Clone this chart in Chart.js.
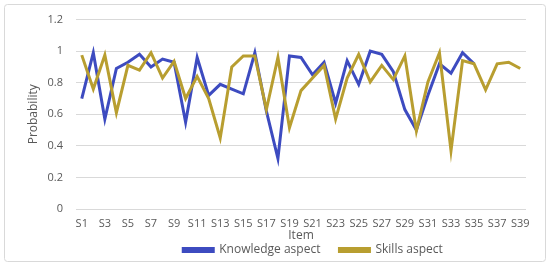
<!DOCTYPE html>
<html>
<head>
<meta charset="utf-8">
<script src="https://cdn.jsdelivr.net/npm/chart.js@4.4.1/dist/chart.umd.min.js"></script>
<style>
  html, body { margin: 0; padding: 0; background: #fff; }
  #wrap { width: 550px; height: 266px; position: relative; }
</style>
</head>
<body>
<div id="wrap"><canvas id="chart"></canvas></div>
<script>
const items = ['S1','S2','S3','S4','S5','S6','S7','S8','S9','S10',
  'S11','S12','S13','S14','S15','S16','S17','S18','S19','S20',
  'S21','S22','S23','S24','S25','S26','S27','S28','S29','S30',
  'S31','S32','S33','S34','S35','S36','S37','S38','S39'];

const knowledge = [0.70, 0.99, 0.57, 0.89, 0.93, 0.98, 0.90, 0.95, 0.93, 0.55,
  0.96, 0.72, 0.79, 0.76, 0.73, 0.99, 0.62, 0.32, 0.97, 0.96,
  0.85, 0.93, 0.67, 0.94, 0.79, 1.00, 0.98, 0.87, 0.63, 0.50,
  0.72, 0.92, 0.86, 0.99, 0.92, null, null, null, null];

const skills = [0.975, 0.76, 0.975, 0.61, 0.91, 0.88, 0.99, 0.83, 0.935, 0.70,
  0.84, 0.70, 0.45, 0.90, 0.97, 0.97, 0.63, 0.96, 0.515, 0.75,
  0.83, 0.91, 0.57, 0.83, 0.98, 0.805, 0.91, 0.82, 0.97, 0.495,
  0.805, 0.99, 0.37, 0.94, 0.92, 0.755, 0.92, 0.93, 0.89];

const textColor = '#595959';
const gridColor = '#d9d9d9';
const fontFamily = '"Open Sans", "Noto Sans", sans-serif';

// white background + light outer frame like the office chart
const frame = {
  id: 'frame',
  beforeDraw(chart) {
    const { ctx, width, height } = chart;
    ctx.save();
    ctx.fillStyle = '#ffffff';
    ctx.fillRect(0, 0, width, height);
    ctx.strokeStyle = gridColor;
    ctx.lineWidth = 1;
    ctx.beginPath();
    ctx.roundRect(4.5, 4.5, 541, 257, 3);
    ctx.stroke();
    ctx.restore();
  },
};

// legend uses a wide label padding for the gap between entries,
// so move the box up afterwards (and keep it tall enough not to clip)
const legendPlace = {
  id: 'legendPlace',
  afterLayout(chart) {
    const lg = chart.legend;
    if (!lg) return;
    const pad = lg.options.labels.padding;
    lg.top = 250 - pad - 6;
    lg.bottom = chart.height;
    lg.height = lg.bottom - lg.top;
    lg.left += 12;
    lg.right += 12;
  },
};

Chart.defaults.font.family = fontFamily;

new Chart(document.getElementById('chart').getContext('2d'), {
  type: 'line',
  plugins: [frame, legendPlace],
  data: {
    labels: items,
    datasets: [
      {
        label: 'Knowledge aspect',
        data: knowledge,
        borderColor: '#3D4BC0',
        backgroundColor: '#3D4BC0',
        borderWidth: 3,
        pointRadius: 0,
        tension: 0,
        order: 2,
      },
      {
        label: 'Skills aspect',
        data: skills,
        borderColor: '#B89E30',
        backgroundColor: '#B89E30',
        borderWidth: 3,
        pointRadius: 0,
        tension: 0,
        order: 1,
      },
    ],
  },
  options: {
    responsive: true,
    maintainAspectRatio: false,
    animation: false,
    layout: { padding: { left: 22, right: 24, top: 16, bottom: 7 } },
    scales: {
      x: {
        offset: true,
        grid: { display: false, drawTicks: false },
        border: { display: false },
        ticks: {
          autoSkip: false,
          minRotation: 0,
          maxRotation: 0,
          padding: 8,
          color: textColor,
          font: { size: 11 },
          callback: (v, i) => (i % 2 === 0 ? items[i] : ''),
        },
        title: { display: true, text: 'Item', color: textColor, font: { size: 12 }, padding: { top: 0, bottom: 0 } },
        afterFit: (s) => { s.height = 34; },
      },
      y: {
        min: 0,
        max: 1.2,
        grid: { color: gridColor, drawTicks: false },
        border: { display: false },
        ticks: {
          stepSize: 0.2,
          padding: 13,
          color: textColor,
          font: { size: 11 },
          callback: (v) => String(Math.round(v * 10) / 10),
        },
        title: { display: true, text: 'Probability', color: textColor, font: { size: 12 }, padding: { top: 4, bottom: 0 } },
        afterFit: (s) => { s.width = 54; },
      },
    },
    plugins: {
      legend: {
        position: 'bottom',
        fullSize: false,
        maxHeight: 16,
        labels: {
          boxWidth: 30, boxHeight: 3, padding: 19, color: textColor, font: { size: 12 },
          sort: (a, b) => a.datasetIndex - b.datasetIndex,
        },
      },
      tooltip: { enabled: false },
    },
  },
});
</script>
</body>
</html>
